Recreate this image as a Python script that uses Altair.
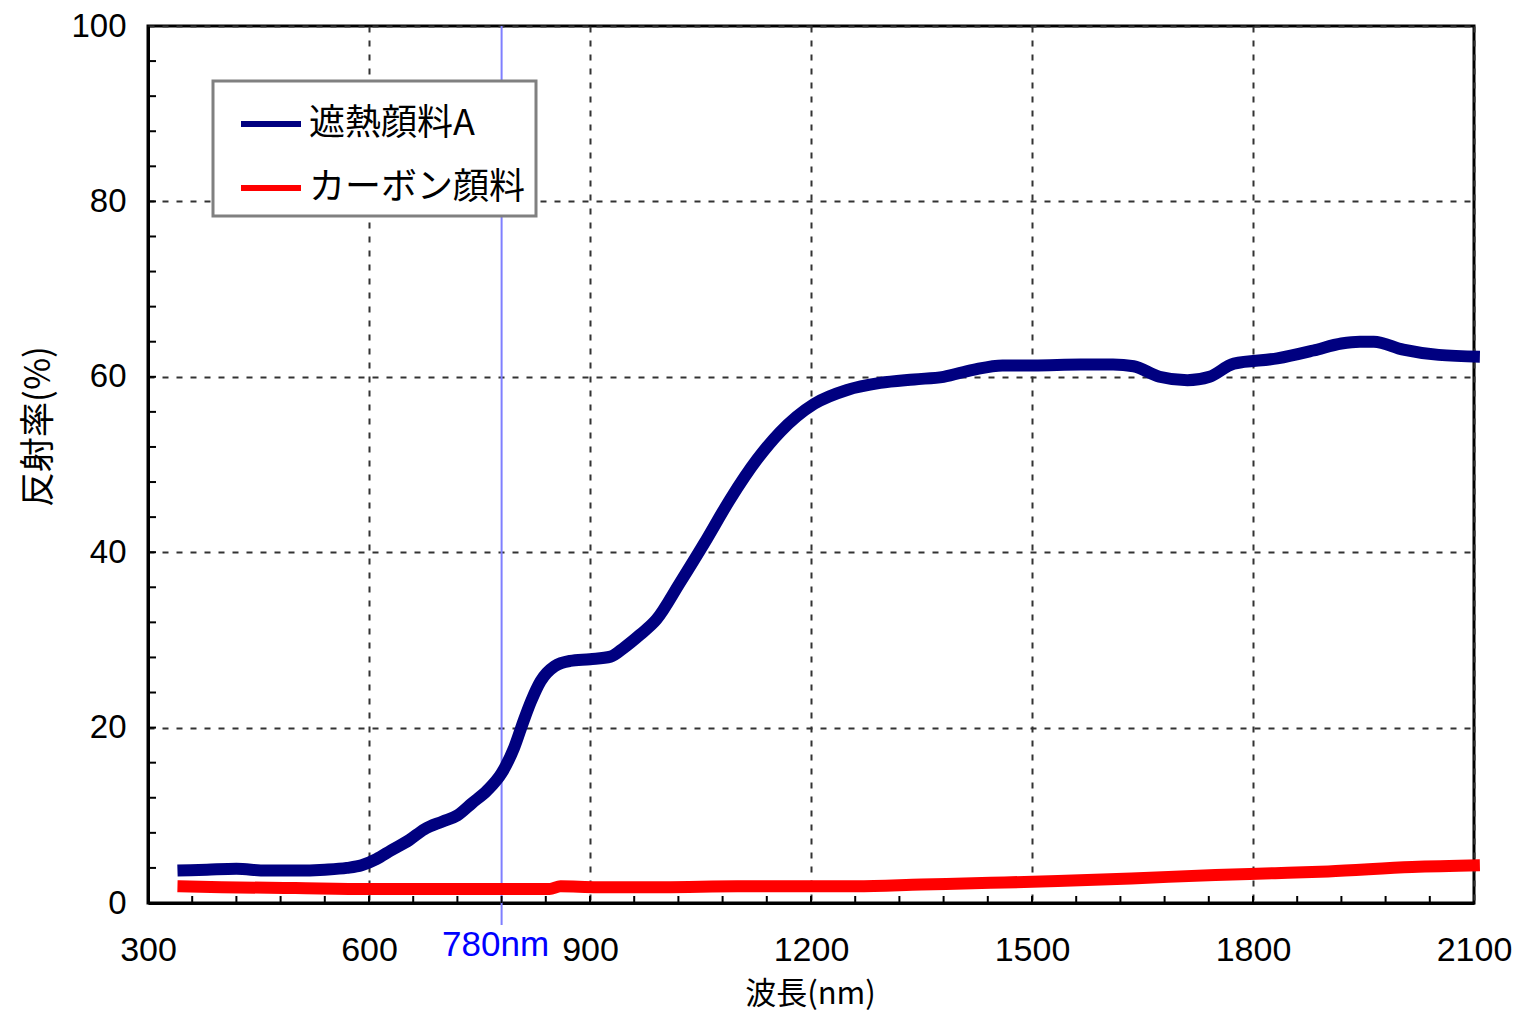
import altair as alt
import pandas as pd

# ---- data ----
blue_wl = [340, 380, 420, 460, 500, 540, 570, 590, 610, 630, 655, 675, 700, 720, 740, 760, 780,
           797, 810, 820, 833, 852, 873, 900, 928, 946, 968, 990, 1022, 1055, 1090, 1127, 1158,
           1204, 1249, 1294, 1340, 1380, 1420, 1460, 1502, 1566, 1610, 1638, 1673, 1711, 1741,
           1774, 1833, 1882, 1920, 1945, 1964, 2004, 2052, 2108]
blue_r = [3.7, 3.8, 3.9, 3.7, 3.7, 3.8, 4.0, 4.3, 5.0, 6.0, 7.2, 8.4, 9.3, 10.0, 11.4, 12.8, 14.8,
          17.7, 20.8, 23.0, 25.3, 27.0, 27.6, 27.8, 28.1, 29.1, 30.6, 32.3, 36.5, 41.0, 46.0, 50.6, 53.7,
          56.9, 58.5, 59.3, 59.7, 60.0, 60.8, 61.3, 61.3, 61.4, 61.4, 61.2, 60.0, 59.6, 60.0,
          61.5, 62.1, 63.0, 63.8, 64.0, 64.0, 63.1, 62.5, 62.3]

red_wl = [340, 400, 500, 600, 700, 800, 845, 860, 910, 1000, 1100, 1261, 1350, 1444, 1535,
          1635, 1749, 1830, 1902, 2016, 2108]
red_r = [1.9, 1.8, 1.7, 1.6, 1.6, 1.6, 1.6, 1.9, 1.8, 1.8, 1.9, 1.9, 2.1, 2.3, 2.5,
         2.8, 3.2, 3.4, 3.6, 4.1, 4.3]

series_names = ["遮熱顔料A", "カーボン顔料"]
series_colors = ["#000080", "#ff0000"]

x_ticks_major = [300, 600, 900, 1200, 1500, 1800, 2100]
y_ticks_major = [0, 20, 40, 60, 80, 100]
x_ticks_minor = list(range(360, 2100, 60))
y_ticks_minor = list(range(4, 100, 4))
marker_wl = [780]
marker_label = ["780nm"]

W, H = 1326, 877

df = pd.concat([
    pd.DataFrame({"wl": blue_wl, "r": blue_r, "s": series_names[0]}),
    pd.DataFrame({"wl": red_wl, "r": red_r, "s": series_names[1]}),
])

xscale = alt.Scale(domain=[300, 2100], nice=False, zero=False)
yscale = alt.Scale(domain=[0, 100], nice=False)

JP = "Noto Sans CJK JP"
NUM = "Liberation Sans"

xaxis = alt.Axis(values=x_ticks_major, ticks=False, format="d", labelFont=NUM, labelFontSize=34,
                 labelColor="black", labelPadding=30, domainColor="black", domainWidth=3,
                 grid=True, gridColor="#333333", gridDash=[6, 8], gridWidth=2,
                 title="波長(nm)", titleFont=JP, titleFontSize=31, titleFontWeight="normal",
                 titleColor="black", titleX=662, titleY=91, titleBaseline="middle",
                 labelFlush=False)
yaxis = alt.Axis(values=y_ticks_major, ticks=False, format="d", labelFont=NUM, labelFontSize=33,
                 labelColor="black", labelPadding=22, domainColor="black", domainWidth=3,
                 grid=True, gridColor="#333333", gridDash=[6, 8], gridWidth=2,
                 title="反射率(%)", titleFont=JP, titleFontSize=35, titleFontWeight="normal",
                 titleColor="black", titleX=-110, titleY=400, titleBaseline="middle",
                 titleAngle=270, labelFlush=False)

marker_df = pd.DataFrame({"wl": marker_wl, "label": marker_label})

vline = alt.Chart(marker_df).mark_rule(color="#7f7fff", strokeWidth=2).encode(
    x=alt.X("wl:Q", scale=xscale, axis=xaxis),
    y=alt.value(0), y2=alt.value(H + 22))

vtext = alt.Chart(marker_df).mark_text(color="#0000ff", font=NUM, fontSize=35, dx=-6,
                                       baseline="middle", align="center").encode(
    x=alt.X("wl:Q", scale=xscale), y=alt.value(H + 42), text="label:N")

lines = alt.Chart(df).mark_line(strokeWidth=12, interpolate="monotone", strokeCap="butt").encode(
    x=alt.X("wl:Q", scale=xscale, axis=xaxis),
    y=alt.Y("r:Q", scale=yscale, axis=yaxis),
    color=alt.Color("s:N", scale=alt.Scale(domain=series_names, range=series_colors),
                    sort=series_names,
                    legend=alt.Legend(title=None, orient="none", legendX=65, legendY=55,
                                      symbolType="stroke", symbolSize=3600, symbolStrokeWidth=6,
                                      symbolOffset=15,
                                      labelFont=JP, labelFontSize=36, labelColor="black",
                                      labelLimit=0, labelOffset=5, rowPadding=13, padding=10,
                                      fillColor="white", strokeColor="#808080")),
    order=alt.Order("s:N", sort="descending"),
)

yt = alt.Chart(pd.DataFrame({"v": y_ticks_minor})).mark_rule(color="black", strokeWidth=2).encode(
    y=alt.Y("v:Q", scale=yscale), x=alt.value(0), x2=alt.value(8))
xt = alt.Chart(pd.DataFrame({"v": x_ticks_minor})).mark_rule(color="black", strokeWidth=2).encode(
    x=alt.X("v:Q", scale=xscale), y=alt.value(H), y2=alt.value(H - 7))

chart = alt.layer(vline, yt, xt, lines, vtext).properties(
    width=W, height=H,
    autosize=alt.AutoSizeParams(type="none"),
    padding={"left": 140, "top": 18, "right": 40, "bottom": 110},
).configure_view(stroke="black", strokeWidth=3).configure_legend(strokeWidth=3)

chart.save("out.html", embed_options={"renderer": "svg", "actions": False})
